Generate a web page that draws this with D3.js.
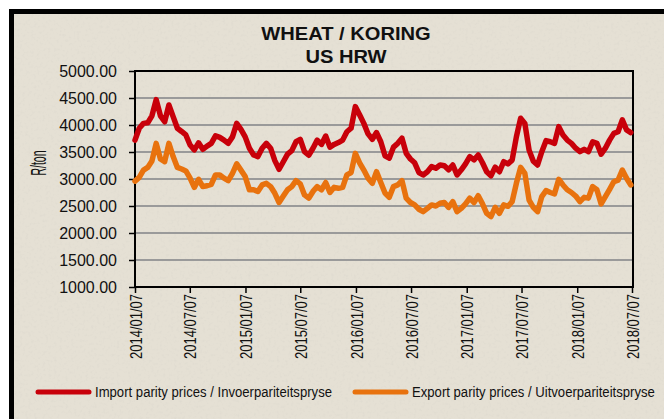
<!DOCTYPE html>
<html>
<head>
<meta charset="utf-8">
<script src="https://cdn.jsdelivr.net/npm/d3@7"></script>
<style>
  body { margin: 0; background: #fff; }
  text { font-family: "Liberation Sans", Arial, sans-serif; fill: #111; }
</style>
</head>
<body>
<div id="chart"></div>
<script>
// weekly series, one value every second week from 2014/01/07
const startDate = "2014-01-07";
const stepDays = 14;
const importParity = [
  3720, 3940, 4030, 4040, 4170, 4470, 4170, 4060, 4370, 4155,
  3940, 3880, 3815, 3630, 3540, 3670, 3550, 3610, 3660, 3800,
  3770, 3720, 3660, 3780, 4030, 3920, 3780, 3570, 3445, 3415,
  3570, 3660, 3570, 3340, 3180, 3320, 3460, 3525, 3690, 3735,
  3505, 3440, 3570, 3720, 3640, 3795, 3590, 3640, 3675, 3720,
  3875, 3940, 4340, 4190, 4030, 3835, 3735, 3860, 3690, 3430,
  3385, 3590, 3660, 3755, 3475, 3370, 3300, 3120, 3075, 3135,
  3230, 3200, 3260, 3245, 3170, 3260, 3075, 3170, 3280, 3415,
  3355, 3445, 3300, 3135, 3060, 3220, 3135, 3320, 3280, 3350,
  3780, 4125, 4030, 3535, 3330, 3260, 3505, 3710, 3690, 3660,
  3970, 3815, 3720, 3660, 3570, 3505, 3550, 3505, 3690, 3660,
  3460, 3570, 3720, 3845, 3875, 4095, 3910, 3860
];
const exportParity = [
  2960, 3030, 3165, 3215, 3335, 3660, 3370, 3320, 3660, 3415,
  3215, 3185, 3150, 3015, 2845, 2995, 2860, 2875, 2900, 3075,
  3075, 3015, 2970, 3105, 3280, 3165, 3045, 2800, 2800, 2770,
  2890, 2920, 2860, 2735, 2565, 2685, 2800, 2860, 2970, 2910,
  2705, 2645, 2770, 2860, 2800, 2935, 2750, 2845, 2830, 2845,
  3075, 3120, 3475, 3300, 3165, 3015, 2920, 3135, 2935, 2740,
  2660, 2860, 2890, 2970, 2645, 2565, 2520, 2440, 2395, 2455,
  2520, 2500, 2550, 2565, 2475, 2580, 2395, 2455, 2540, 2645,
  2565, 2690, 2540, 2365, 2305, 2475, 2365, 2520, 2495, 2580,
  2920, 3215, 3105, 2610, 2475, 2395, 2675, 2785, 2750, 2725,
  2995, 2890, 2800, 2750, 2685, 2580, 2660, 2645, 2860, 2800,
  2540, 2675, 2810, 2950, 2980, 3165, 3015, 2890
];
const tickLabels = [
  "2014/01/07", "2014/07/07", "2015/01/07", "2015/07/07", "2016/01/07",
  "2016/07/07", "2017/01/07", "2017/07/07", "2018/01/07", "2018/07/07"
];
const yTicks = [1000, 1500, 2000, 2500, 3000, 3500, 4000, 4500, 5000];
const seriesNames = [
  "Import parity prices / Invoerpariteitspryse",
  "Export parity prices / Uitvoerpariteitspryse"
];
const colors = ["#c8000a", "#e8720e"];

const W = 664, H = 419;
const margin = {top: 71, right: 31, bottom: 132, left: 135},
    width = W - margin.left - margin.right,
    height = H - margin.top - margin.bottom;

const parse = d3.timeParse("%Y-%m-%d");
const parseTick = d3.timeParse("%Y/%m/%d");
const t0 = parse(startDate);
const dates = importParity.map((_, i) => d3.timeDay.offset(t0, i * stepDays));

const svg = d3.select("#chart")
  .append("svg")
    .attr("width", W)
    .attr("height", H);

// parchment-like background
const defs = svg.append("defs");
const f = defs.append("filter").attr("id", "grain")
  .attr("x", 0).attr("y", 0).attr("width", "100%").attr("height", "100%");
f.append("feTurbulence")
  .attr("type", "fractalNoise").attr("baseFrequency", "0.35")
  .attr("numOctaves", 2).attr("seed", 7);
f.append("feColorMatrix").attr("type", "matrix")
  .attr("values", "0 0 0 0 0.62  0 0 0 0 0.6  0 0 0 0 0.55  0 0 0 -2.6 1.3");

svg.append("rect").attr("x", 9).attr("y", 9).attr("width", W).attr("height", H)
  .attr("fill", "#e5e0d4");
svg.append("rect").attr("x", 9).attr("y", 9).attr("width", W).attr("height", H)
  .attr("filter", "url(#grain)").attr("opacity", 0.22);
// heavy frame top + left
svg.append("path")
  .attr("d", `M11.5,${H} V11.5 H${W}`)
  .attr("fill", "none").attr("stroke", "#000").attr("stroke-width", 5);

const g = svg.append("g")
  .attr("transform", "translate(" + margin.left + "," + margin.top + ")");

const x = d3.scaleTime()
  .domain([parseTick(tickLabels[0]), parseTick(tickLabels[tickLabels.length - 1])])
  .range([0, width - 1]);
const y = d3.scaleLinear()
  .domain([1000, 5000])
  .range([height, 0]);

// grid
g.append("g")
  .selectAll("line")
  .data(yTicks.slice(1, -1))
  .enter()
  .append("line")
    .attr("x1", 0).attr("x2", width)
    .attr("y1", d => y(d)).attr("y2", d => y(d))
    .attr("stroke", "#9a9a9a").attr("stroke-width", 2);

// y axis
const yAxis = g.append("g")
  .call(d3.axisLeft(y).tickValues(yTicks).tickFormat(d3.format(".2f")).tickSizeOuter(0).tickSize(6));
yAxis.select(".domain").remove();
yAxis.selectAll("line").attr("stroke", "#000").attr("stroke-width", 1.5);
yAxis.selectAll("text")
  .attr("x", -18)
  .attr("dy", "0.36em")
  .style("font-size", "16px");

// x axis
const xAxis = g.append("g")
  .attr("transform", "translate(0," + height + ")")
  .call(d3.axisBottom(x).tickValues(tickLabels.map(parseTick)).tickSize(6).tickSizeOuter(0)
    .tickFormat((d, i) => tickLabels[i]));
xAxis.select(".domain").remove();
xAxis.selectAll("line").attr("stroke", "#000").attr("stroke-width", 1.5);
xAxis.selectAll("text")
  .attr("y", 0).attr("x", 0).attr("dy", 0)
  .attr("transform", "translate(0,7) rotate(-90) scale(1,1.3)")
  .attr("dominant-baseline", "central")
  .style("text-anchor", "end")
  .style("font-size", "13px");

// plot border
g.append("rect")
  .attr("width", width).attr("height", height)
  .attr("fill", "none").attr("stroke", "#000").attr("stroke-width", 2);

// series
const line = d3.line()
  .x((d, i) => x(dates[i]))
  .y(d => y(d))
  .curve(d3.curveLinear);
[importParity, exportParity].forEach((s, i) => {
  g.append("path")
    .datum(s)
    .attr("d", line)
    .attr("fill", "none")
    .attr("stroke", colors[i])
    .attr("stroke-width", 5.5)
    .attr("stroke-linejoin", "round")
    .attr("stroke-linecap", "round");
});

// titles
svg.append("text")
  .attr("transform", "translate(346,39.5) scale(1.15,1)")
  .attr("text-anchor", "middle")
  .style("font-size", "17.5px").style("font-weight", "bold")
  .text("WHEAT / KORING");
svg.append("text")
  .attr("transform", "translate(346,62.5) scale(1.15,1)")
  .attr("text-anchor", "middle")
  .style("font-size", "17.5px").style("font-weight", "bold")
  .text("US HRW");
svg.append("text")
  .attr("transform", "translate(39,163) rotate(-90) scale(0.7,1.45)")
  .attr("text-anchor", "middle")
  .attr("dominant-baseline", "central")
  .style("font-size", "15px")
  .text("R/ton");

// legend
const legendX = [38, 355];
seriesNames.forEach((name, i) => {
  svg.append("line")
    .attr("x1", legendX[i]).attr("x2", legendX[i] + 51)
    .attr("y1", 392).attr("y2", 392)
    .attr("stroke", colors[i]).attr("stroke-width", 5)
    .attr("stroke-linecap", "round");
  svg.append("text")
    .attr("transform", `translate(${legendX[i] + 57},397) scale(1.01,1.1)`)
    .style("font-size", "13px")
    .text(name);
});
</script>
</body>
</html>
